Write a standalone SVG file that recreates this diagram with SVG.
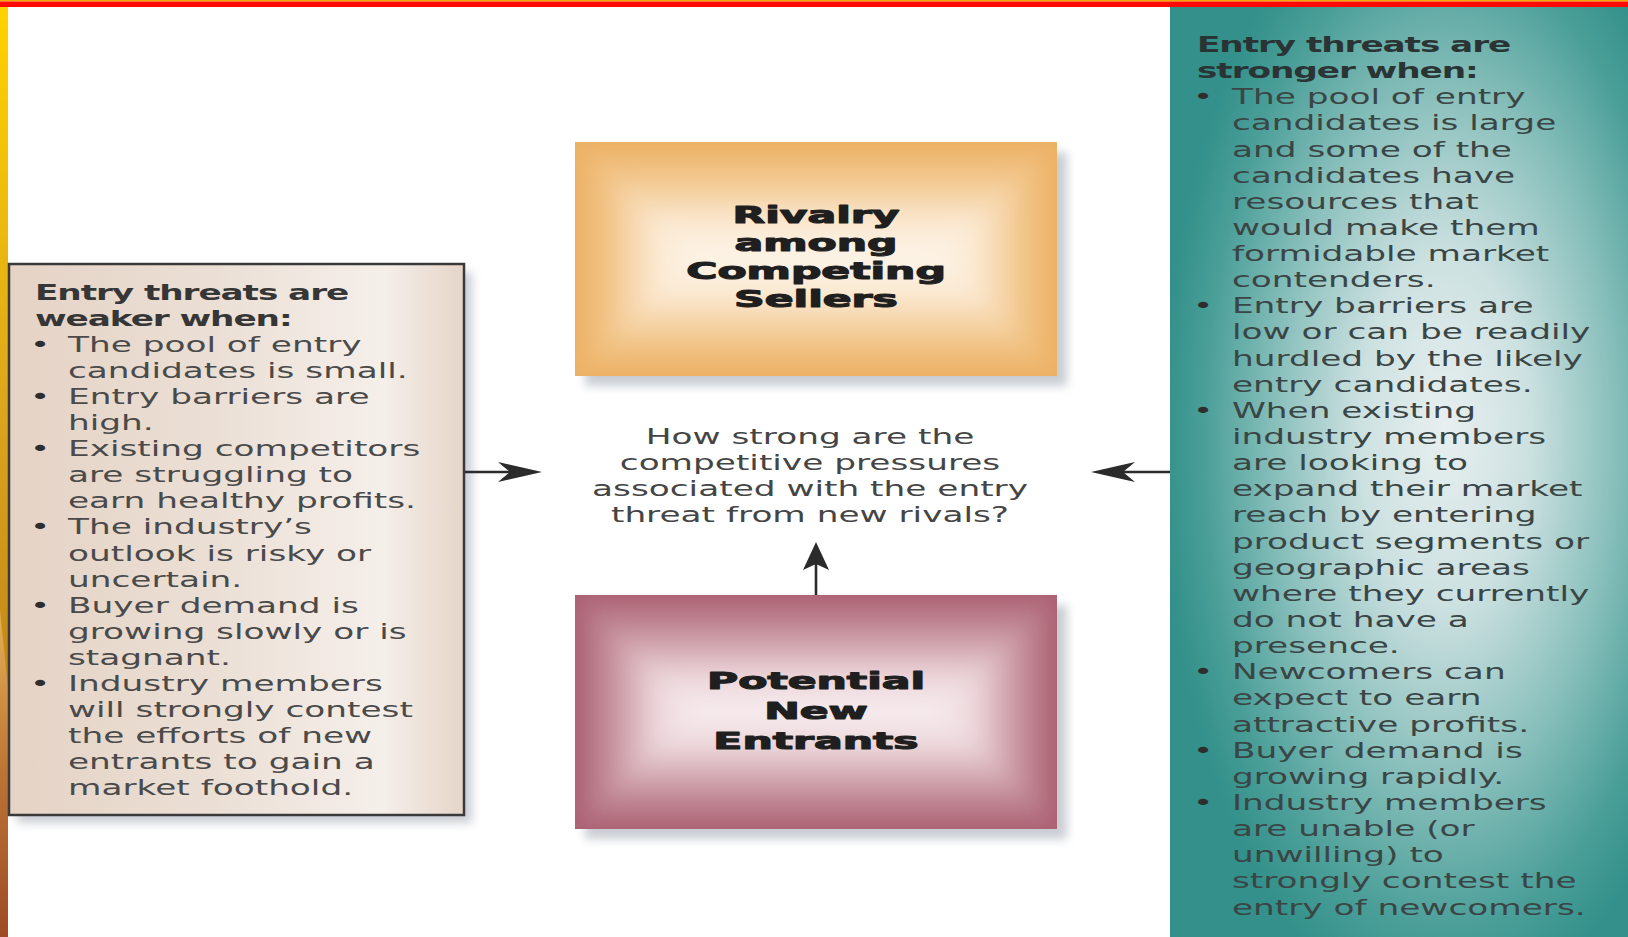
<svg xmlns="http://www.w3.org/2000/svg" width="1628" height="937" viewBox="0 0 1628 937">
  <style>
    .body { font-family: "DejaVu Sans", "Liberation Sans", sans-serif; font-size: 22px; fill: #4a4a4a; }
    .title { font-weight: bold; letter-spacing: -0.7px; fill: #363636; }
    .teal-text { fill: #3a4646; }
    .teal-title { fill: #2a3434; }
    .bullet { text-anchor: middle; fill: #2e2e2e; }
    .question { font-family: "DejaVu Sans", "Liberation Sans", sans-serif; font-size: 22px; fill: #454545; text-anchor: middle; }
    .label { font-family: "DejaVu Sans", "Liberation Sans", sans-serif; font-size: 23px; font-weight: bold; fill: #1f1f1f; stroke: #1f1f1f; stroke-width: 1.1px; stroke-linejoin: round; text-anchor: middle; }
    .conn { fill: none; stroke: #2b2b2b; stroke-width: 2.6; }
    .shadow { fill: #9ea6b0; opacity: 0.55; filter: url(#soft); }
    .smooth { filter: url(#smooth); }
  </style>
  <defs>
    <filter id="soft" x="-10%" y="-10%" width="120%" height="120%">
      <feGaussianBlur stdDeviation="5"/>
    </filter>
    <filter id="smooth" x="-5%" y="-5%" width="110%" height="110%">
      <feGaussianBlur stdDeviation="9"/>
    </filter>
    <clipPath id="clipTop"><rect x="575" y="142" width="482" height="234"/></clipPath>
    <clipPath id="clipBottom"><rect x="575" y="595" width="482" height="234"/></clipPath>

    <!-- side strip colours -->
    <linearGradient id="stripTop" x1="0" y1="7" x2="0" y2="700" gradientUnits="userSpaceOnUse">
      <stop offset="0" stop-color="#ffd200"/>
      <stop offset="0.6" stop-color="#dba41c"/>
      <stop offset="1" stop-color="#c08518"/>
    </linearGradient>
    <linearGradient id="stripLow" x1="0" y1="610" x2="0" y2="937" gradientUnits="userSpaceOnUse">
      <stop offset="0" stop-color="#e6b055"/>
      <stop offset="0.5" stop-color="#bc7434"/>
      <stop offset="1" stop-color="#9e4a26"/>
    </linearGradient>

    <!-- beige panel -->
    <linearGradient id="beige" x1="9" y1="0" x2="464" y2="0" gradientUnits="userSpaceOnUse">
      <stop offset="0" stop-color="#e5d3c5"/>
      <stop offset="0.45" stop-color="#ebdfd5"/>
      <stop offset="0.82" stop-color="#f5efea"/>
      <stop offset="1" stop-color="#e6d5c8"/>
    </linearGradient>

    <!-- teal panel -->
    <radialGradient id="teal" cx="0.6" cy="0.47" r="0.62" fx="0.6" fy="0.45">
      <stop offset="0" stop-color="#e8eff0"/>
      <stop offset="0.3" stop-color="#cde1e1"/>
      <stop offset="0.6" stop-color="#88bfbb"/>
      <stop offset="0.85" stop-color="#4a9e98"/>
      <stop offset="1" stop-color="#33908a"/>
    </radialGradient>

    <!-- box gradients: orange box 575..1057 x 142..376 -->
    <linearGradient id="oT" x1="0" y1="142" x2="0" y2="259" gradientUnits="userSpaceOnUse">
      <stop offset="0" stop-color="#ecb063"/><stop offset="0.25" stop-color="#f1c283"/><stop offset="0.7" stop-color="#fbe9d2"/><stop offset="1" stop-color="#fdf4e8"/>
    </linearGradient>
    <linearGradient id="oB" x1="0" y1="376" x2="0" y2="259" gradientUnits="userSpaceOnUse">
      <stop offset="0" stop-color="#ecb063"/><stop offset="0.25" stop-color="#f1c283"/><stop offset="0.7" stop-color="#fbe9d2"/><stop offset="1" stop-color="#fdf4e8"/>
    </linearGradient>
    <linearGradient id="oL" x1="575" y1="0" x2="692" y2="0" gradientUnits="userSpaceOnUse">
      <stop offset="0" stop-color="#ecb063"/><stop offset="0.25" stop-color="#f1c283"/><stop offset="0.7" stop-color="#fbe9d2"/><stop offset="1" stop-color="#fdf4e8"/>
    </linearGradient>
    <linearGradient id="oR" x1="1057" y1="0" x2="940" y2="0" gradientUnits="userSpaceOnUse">
      <stop offset="0" stop-color="#ecb063"/><stop offset="0.25" stop-color="#f1c283"/><stop offset="0.7" stop-color="#fbe9d2"/><stop offset="1" stop-color="#fdf4e8"/>
    </linearGradient>

    <!-- box gradients: mauve box 575..1057 x 595..829 -->
    <linearGradient id="mT" x1="0" y1="595" x2="0" y2="712" gradientUnits="userSpaceOnUse">
      <stop offset="0" stop-color="#ab6173"/><stop offset="0.25" stop-color="#c08693"/><stop offset="0.7" stop-color="#ecd6da"/><stop offset="1" stop-color="#f7ecee"/>
    </linearGradient>
    <linearGradient id="mB" x1="0" y1="829" x2="0" y2="712" gradientUnits="userSpaceOnUse">
      <stop offset="0" stop-color="#ab6173"/><stop offset="0.25" stop-color="#c08693"/><stop offset="0.7" stop-color="#ecd6da"/><stop offset="1" stop-color="#f7ecee"/>
    </linearGradient>
    <linearGradient id="mL" x1="575" y1="0" x2="692" y2="0" gradientUnits="userSpaceOnUse">
      <stop offset="0" stop-color="#ab6173"/><stop offset="0.25" stop-color="#c08693"/><stop offset="0.7" stop-color="#ecd6da"/><stop offset="1" stop-color="#f7ecee"/>
    </linearGradient>
    <linearGradient id="mR" x1="1057" y1="0" x2="940" y2="0" gradientUnits="userSpaceOnUse">
      <stop offset="0" stop-color="#ab6173"/><stop offset="0.25" stop-color="#c08693"/><stop offset="0.7" stop-color="#ecd6da"/><stop offset="1" stop-color="#f7ecee"/>
    </linearGradient>

    <marker id="headH" viewBox="0 0 44 20" refX="32" refY="10" markerWidth="44" markerHeight="20" markerUnits="userSpaceOnUse" orient="auto">
      <path d="M0,0 L44,10 L0,20 L12,10 Z" fill="#2b2b2b"/>
    </marker>
    <marker id="headV" viewBox="0 0 28 26" refX="16" refY="13" markerWidth="28" markerHeight="26" markerUnits="userSpaceOnUse" orient="auto">
      <path d="M0,0 L28,13 L0,26 L6,13 Z" fill="#2b2b2b"/>
    </marker>
  </defs>

  <!-- page -->
  <rect x="0" y="0" width="1628" height="937" fill="#ffffff"/>
  <rect x="0" y="7" width="8" height="930" fill="url(#stripTop)"/>
  <polygon points="0,610 8,688 8,937 0,937" fill="url(#stripLow)"/>
  <rect x="0" y="0" width="1628" height="1.5" fill="#f2a800"/>
  <rect x="0" y="1.5" width="1628" height="5.5" fill="#ff0a00"/>

  <!-- weaker-when panel -->
  <g id="weaker-panel">
    <rect class="shadow" x="17" y="272" width="455" height="551"/>
    <rect x="9" y="264" width="455" height="551" fill="url(#beige)" stroke="#3a3a3a" stroke-width="2.5"/>
    <g transform="translate(35 0) scale(1.56 1)">
      <text class="body title" x="0" y="300">Entry threats are</text>
      <text class="body title" x="0" y="326">weaker when:</text>
      <text class="body bullet" x="3.2" y="352">•</text>
      <text class="body" x="21.15" y="352">The pool of entry</text>
      <text class="body" x="21.15" y="378">candidates is small.</text>
      <text class="body bullet" x="3.2" y="404">•</text>
      <text class="body" x="21.15" y="404">Entry barriers are</text>
      <text class="body" x="21.15" y="430">high.</text>
      <text class="body bullet" x="3.2" y="456">•</text>
      <text class="body" x="21.15" y="456">Existing competitors</text>
      <text class="body" x="21.15" y="482">are struggling to</text>
      <text class="body" x="21.15" y="508">earn healthy profits.</text>
      <text class="body bullet" x="3.2" y="534">•</text>
      <text class="body" x="21.15" y="534">The industry’s</text>
      <text class="body" x="21.15" y="561">outlook is risky or</text>
      <text class="body" x="21.15" y="587">uncertain.</text>
      <text class="body bullet" x="3.2" y="613">•</text>
      <text class="body" x="21.15" y="613">Buyer demand is</text>
      <text class="body" x="21.15" y="639">growing slowly or is</text>
      <text class="body" x="21.15" y="665">stagnant.</text>
      <text class="body bullet" x="3.2" y="691">•</text>
      <text class="body" x="21.15" y="691">Industry members</text>
      <text class="body" x="21.15" y="717">will strongly contest</text>
      <text class="body" x="21.15" y="743">the efforts of new</text>
      <text class="body" x="21.15" y="769">entrants to gain a</text>
      <text class="body" x="21.15" y="795">market foothold.</text>
    </g>
  </g>

  <!-- stronger-when panel -->
  <g id="stronger-panel">
    <rect x="1170" y="7" width="458" height="930" fill="url(#teal)"/>
    <g transform="translate(1197 0) scale(1.56 1)">
      <text class="body title teal-title" x="0" y="52">Entry threats are</text>
      <text class="body title teal-title" x="0" y="78">stronger when:</text>
      <text class="body bullet" x="3.85" y="104">•</text>
      <text class="body teal-text" x="22.4" y="104">The pool of entry</text>
      <text class="body teal-text" x="22.4" y="130">candidates is large</text>
      <text class="body teal-text" x="22.4" y="157">and some of the</text>
      <text class="body teal-text" x="22.4" y="183">candidates have</text>
      <text class="body teal-text" x="22.4" y="209">resources that</text>
      <text class="body teal-text" x="22.4" y="235">would make them</text>
      <text class="body teal-text" x="22.4" y="261">formidable market</text>
      <text class="body teal-text" x="22.4" y="287">contenders.</text>
      <text class="body bullet" x="3.85" y="313">•</text>
      <text class="body teal-text" x="22.4" y="313">Entry barriers are</text>
      <text class="body teal-text" x="22.4" y="339">low or can be readily</text>
      <text class="body teal-text" x="22.4" y="366">hurdled by the likely</text>
      <text class="body teal-text" x="22.4" y="392">entry candidates.</text>
      <text class="body bullet" x="3.85" y="418">•</text>
      <text class="body teal-text" x="22.4" y="418">When existing</text>
      <text class="body teal-text" x="22.4" y="444">industry members</text>
      <text class="body teal-text" x="22.4" y="470">are looking to</text>
      <text class="body teal-text" x="22.4" y="496">expand their market</text>
      <text class="body teal-text" x="22.4" y="522">reach by entering</text>
      <text class="body teal-text" x="22.4" y="549">product segments or</text>
      <text class="body teal-text" x="22.4" y="575">geographic areas</text>
      <text class="body teal-text" x="22.4" y="601">where they currently</text>
      <text class="body teal-text" x="22.4" y="627">do not have a</text>
      <text class="body teal-text" x="22.4" y="653">presence.</text>
      <text class="body bullet" x="3.85" y="679">•</text>
      <text class="body teal-text" x="22.4" y="679">Newcomers can</text>
      <text class="body teal-text" x="22.4" y="705">expect to earn</text>
      <text class="body teal-text" x="22.4" y="732">attractive profits.</text>
      <text class="body bullet" x="3.85" y="758">•</text>
      <text class="body teal-text" x="22.4" y="758">Buyer demand is</text>
      <text class="body teal-text" x="22.4" y="784">growing rapidly.</text>
      <text class="body bullet" x="3.85" y="810">•</text>
      <text class="body teal-text" x="22.4" y="810">Industry members</text>
      <text class="body teal-text" x="22.4" y="836">are unable (or</text>
      <text class="body teal-text" x="22.4" y="862">unwilling) to</text>
      <text class="body teal-text" x="22.4" y="888">strongly contest the</text>
      <text class="body teal-text" x="22.4" y="915">entry of newcomers.</text>
    </g>
  </g>

  <!-- rivalry box -->
  <g id="rivalry">
    <rect class="shadow" x="585" y="152" width="482" height="234"/>
    <rect x="575" y="142" width="482" height="234" fill="#ecb063"/>
    <g clip-path="url(#clipTop)">
      <g class="smooth">
        <polygon points="575,142 1057,142 940,259 692,259" fill="url(#oT)"/>
        <polygon points="575,376 1057,376 940,259 692,259" fill="url(#oB)"/>
        <polygon points="575,142 692,259 575,376" fill="url(#oL)"/>
        <polygon points="1057,142 940,259 1057,376" fill="url(#oR)"/>
      </g>
    </g>
    <g transform="translate(816 0) scale(1.85 1)">
      <text class="label" x="0" y="223">Rivalry</text>
      <text class="label" x="0" y="251">among</text>
      <text class="label" x="0" y="279">Competing</text>
      <text class="label" x="0" y="307">Sellers</text>
    </g>
  </g>

  <!-- central question -->
  <g id="question">
    <g transform="translate(810 0) scale(1.56 1)">
      <text class="question" x="0" y="444">How strong are the</text>
      <text class="question" x="0" y="470">competitive pressures</text>
      <text class="question" x="0" y="496">associated with the entry</text>
      <text class="question" x="0" y="522">threat from new rivals?</text>
    </g>
  </g>

  <!-- potential new entrants box -->
  <g id="new-entrants">
    <rect class="shadow" x="585" y="605" width="482" height="234"/>
    <rect x="575" y="595" width="482" height="234" fill="#ab6173"/>
    <g clip-path="url(#clipBottom)">
      <g class="smooth">
        <polygon points="575,595 1057,595 940,712 692,712" fill="url(#mT)"/>
        <polygon points="575,829 1057,829 940,712 692,712" fill="url(#mB)"/>
        <polygon points="575,595 692,712 575,829" fill="url(#mL)"/>
        <polygon points="1057,595 940,712 1057,829" fill="url(#mR)"/>
      </g>
    </g>
    <g transform="translate(816 0) scale(1.85 1)">
      <text class="label" x="0" y="689">Potential</text>
      <text class="label" x="0" y="719">New</text>
      <text class="label" x="0" y="749">Entrants</text>
    </g>
  </g>

  <!-- connectors -->
  <g id="connectors">
    <path class="conn" d="M465,472 L530,472" marker-end="url(#headH)"/>
    <path class="conn" d="M1170,472 L1103,472" marker-end="url(#headH)"/>
    <path class="conn" d="M816,595 L816,554" marker-end="url(#headV)"/>
  </g>
</svg>
